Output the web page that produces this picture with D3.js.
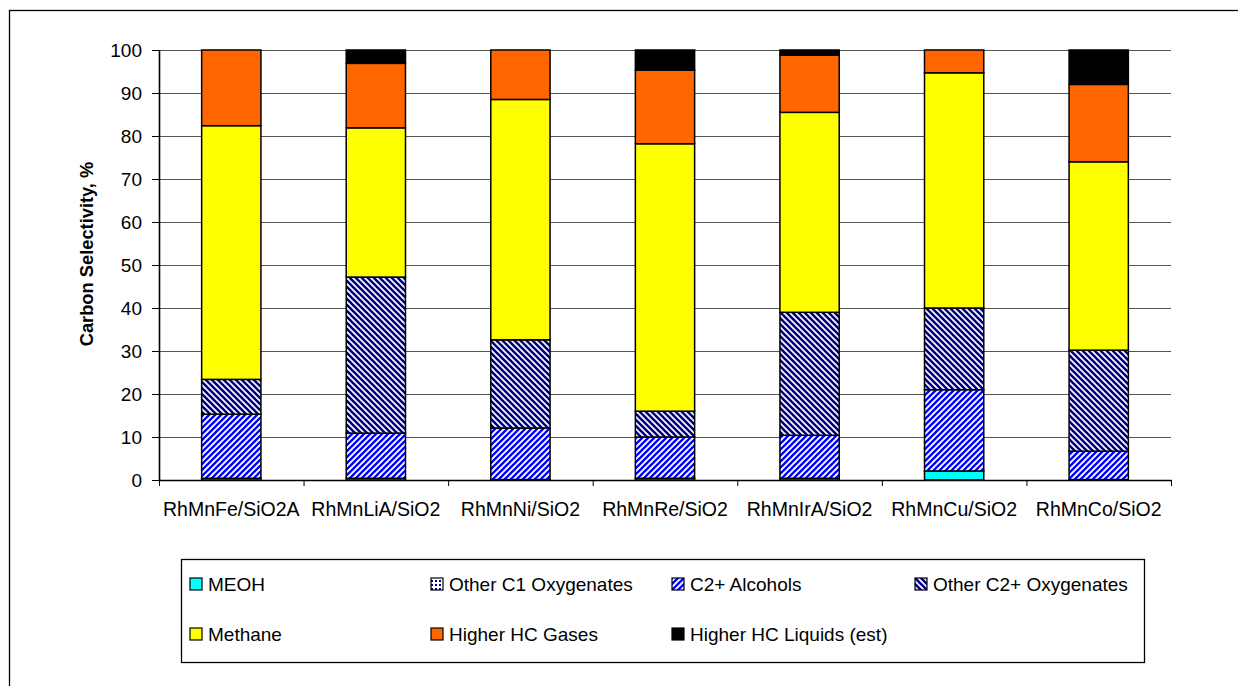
<!DOCTYPE html>
<html>
<head>
<meta charset="utf-8">
<script src="https://cdn.jsdelivr.net/npm/d3@7"></script>
<style>
  html, body { margin: 0; padding: 0; background: #fff; }
  svg { display: block; font-family: "Liberation Sans", Arial, sans-serif; }
</style>
</head>
<body>
<svg id="chart" width="1238" height="686"></svg>
<script>
const categories = ["RhMnFe/SiO2A", "RhMnLiA/SiO2", "RhMnNi/SiO2", "RhMnRe/SiO2", "RhMnIrA/SiO2", "RhMnCu/SiO2", "RhMnCo/SiO2"];
const meoh       = [0,    0,    0,    0,    0,    2.1,  0];
const otherC1    = [0.4,  0.4,  0.1,  0.4,  0.4,  0,    0.1];
const c2Alcohols = [14.9, 10.5, 12.0, 9.6,  10.0, 18.9, 6.6];
const otherC2    = [8.1,  36.3, 20.5, 6.0,  28.6, 19.0, 23.5];
const methane    = [59.0, 34.7, 55.9, 62.2, 46.5, 54.7, 43.8];
const hcGases    = [17.6, 15.0, 11.5, 17.1, 13.3, 5.3,  18.0];
const hcLiquids  = [0,    3.1,  0,    4.7,  1.2,  0,    8.0];
const seriesNames = ["MEOH", "Other C1 Oxygenates", "C2+ Alcohols", "Other C2+ Oxygenates", "Methane", "Higher HC Gases", "Higher HC Liquids (est)"];
const yTicks = [0, 10, 20, 30, 40, 50, 60, 70, 80, 90, 100];
const yTitle = "Carbon Selectivity, %";

const seriesValues = [meoh, otherC1, c2Alcohols, otherC2, methane, hcGases, hcLiquids];
const fills = ["#00FFFF", "url(#pC1)", "url(#pAlc)", "url(#pC2)", "#FFFF00", "#FF6600", "#000000"];

const svg = d3.select("#chart");

// patterns
const defs = svg.append("defs");
const pAlc = defs.append("pattern").attr("id", "pAlc").attr("patternUnits", "userSpaceOnUse").attr("width", 6).attr("height", 6);
pAlc.append("rect").attr("width", 6).attr("height", 6).attr("fill", "#fff");
pAlc.append("path").attr("d", "M-1,1 l2,-2 M0,6 l6,-6 M5,7 l2,-2").attr("stroke", "#0000FF").attr("stroke-width", 2.3);
const pC2 = defs.append("pattern").attr("id", "pC2").attr("patternUnits", "userSpaceOnUse").attr("width", 6).attr("height", 6);
pC2.append("rect").attr("width", 6).attr("height", 6).attr("fill", "#fff");
pC2.append("path").attr("d", "M-1,5 l2,2 M0,0 l6,6 M5,-1 l2,2").attr("stroke", "#000080").attr("stroke-width", 2.6);
const pC1 = defs.append("pattern").attr("id", "pC1").attr("patternUnits", "userSpaceOnUse").attr("width", 4).attr("height", 4);
pC1.append("rect").attr("width", 4).attr("height", 4).attr("fill", "#fff");
pC1.append("rect").attr("width", 2).attr("height", 2).attr("fill", "#000080");

// outer border
svg.append("rect").attr("x", 9.5).attr("y", 10.5).attr("width", 1300).attr("height", 800)
  .attr("fill", "none").attr("stroke", "#000").attr("stroke-width", 1.3);

const plotL = 159, plotR = 1171, plotT = 50, plotB = 480;
const x = d3.scaleBand().domain(categories).range([plotL, plotR]).paddingInner(0.59).paddingOuter(0.295);
const xb = d3.scaleLinear().domain([0, categories.length]).range([plotL, plotR]);
const y = d3.scaleLinear().domain([0, 100]).range([plotB, plotT]);

// gridlines
svg.append("g").selectAll("line").data(yTicks.filter(d => d > 0)).join("line")
  .attr("x1", plotL).attr("x2", plotR).attr("y1", d => y(d) + 0.5).attr("y2", d => y(d) + 0.5)
  .attr("stroke", "#555").attr("stroke-width", 1.2);

// stacked data
const rows = categories.map((c, i) => {
  const r = { cat: c };
  seriesNames.forEach((s, j) => r[s] = seriesValues[j][i]);
  return r;
});
const stack = d3.stack().keys(seriesNames)(rows);

svg.append("g").selectAll("g").data(stack).join("g")
  .attr("fill", (d, j) => fills[j])
  .selectAll("rect").data(d => d.filter(p => p[1] - p[0] > 0)).join("rect")
  .attr("x", d => x(d.data.cat))
  .attr("width", x.bandwidth())
  .attr("y", d => y(d[1]))
  .attr("height", d => y(d[0]) - y(d[1]))
  .attr("stroke", "#000").attr("stroke-width", 1.5);

// y axis
const yAxis = svg.append("g").attr("transform", `translate(${plotL},0)`)
  .call(d3.axisLeft(y).tickValues(yTicks).tickSize(7).tickPadding(10).tickSizeOuter(0));
yAxis.select(".domain").attr("stroke", "#000").attr("stroke-width", 1.6);
yAxis.selectAll(".tick line").attr("stroke", "#000");
yAxis.selectAll("text").attr("font-size", 19).attr("fill", "#000")
  .attr("font-family", "'Liberation Sans', Arial, sans-serif");

// x axis
const xAxis = svg.append("g").attr("transform", `translate(0,${plotB})`)
  .call(d3.axisBottom(xb).tickValues(d3.range(categories.length + 1)).tickSize(6).tickFormat("").tickSizeOuter(0));
xAxis.select(".domain").attr("stroke", "#000").attr("stroke-width", 1.6);
xAxis.selectAll(".tick line").attr("stroke", "#000");
svg.append("g").selectAll("text").data(categories).join("text")
  .attr("x", d => x(d) + x.bandwidth() / 2).attr("y", 516)
  .attr("text-anchor", "middle").attr("font-size", 19.5).attr("fill", "#000")
  .text(d => d);

// y title
svg.append("text").attr("transform", "translate(93,254) rotate(-90)")
  .attr("text-anchor", "middle").attr("font-size", 18.3).attr("font-weight", "bold")
  .text(yTitle);

// legend
svg.append("rect").attr("x", 181.5).attr("y", 559.5).attr("width", 963).attr("height", 103)
  .attr("fill", "#fff").attr("stroke", "#000").attr("stroke-width", 1.3);
const colX = [190, 431, 672, 915];
const rowY = [584, 634];
const lg = svg.append("g").selectAll("g").data(seriesNames).join("g")
  .attr("transform", (d, i) => `translate(${colX[i % 4]},${rowY[Math.floor(i / 4)]})`);
lg.append("rect").attr("x", 0).attr("y", -6).attr("width", 12).attr("height", 12)
  .attr("fill", (d, i) => fills[i]).attr("stroke", "#000").attr("stroke-width", 1.2);
lg.append("text").attr("x", 18).attr("y", 6.5).attr("font-size", 19).attr("fill", "#000").text(d => d);
</script>
</body>
</html>
